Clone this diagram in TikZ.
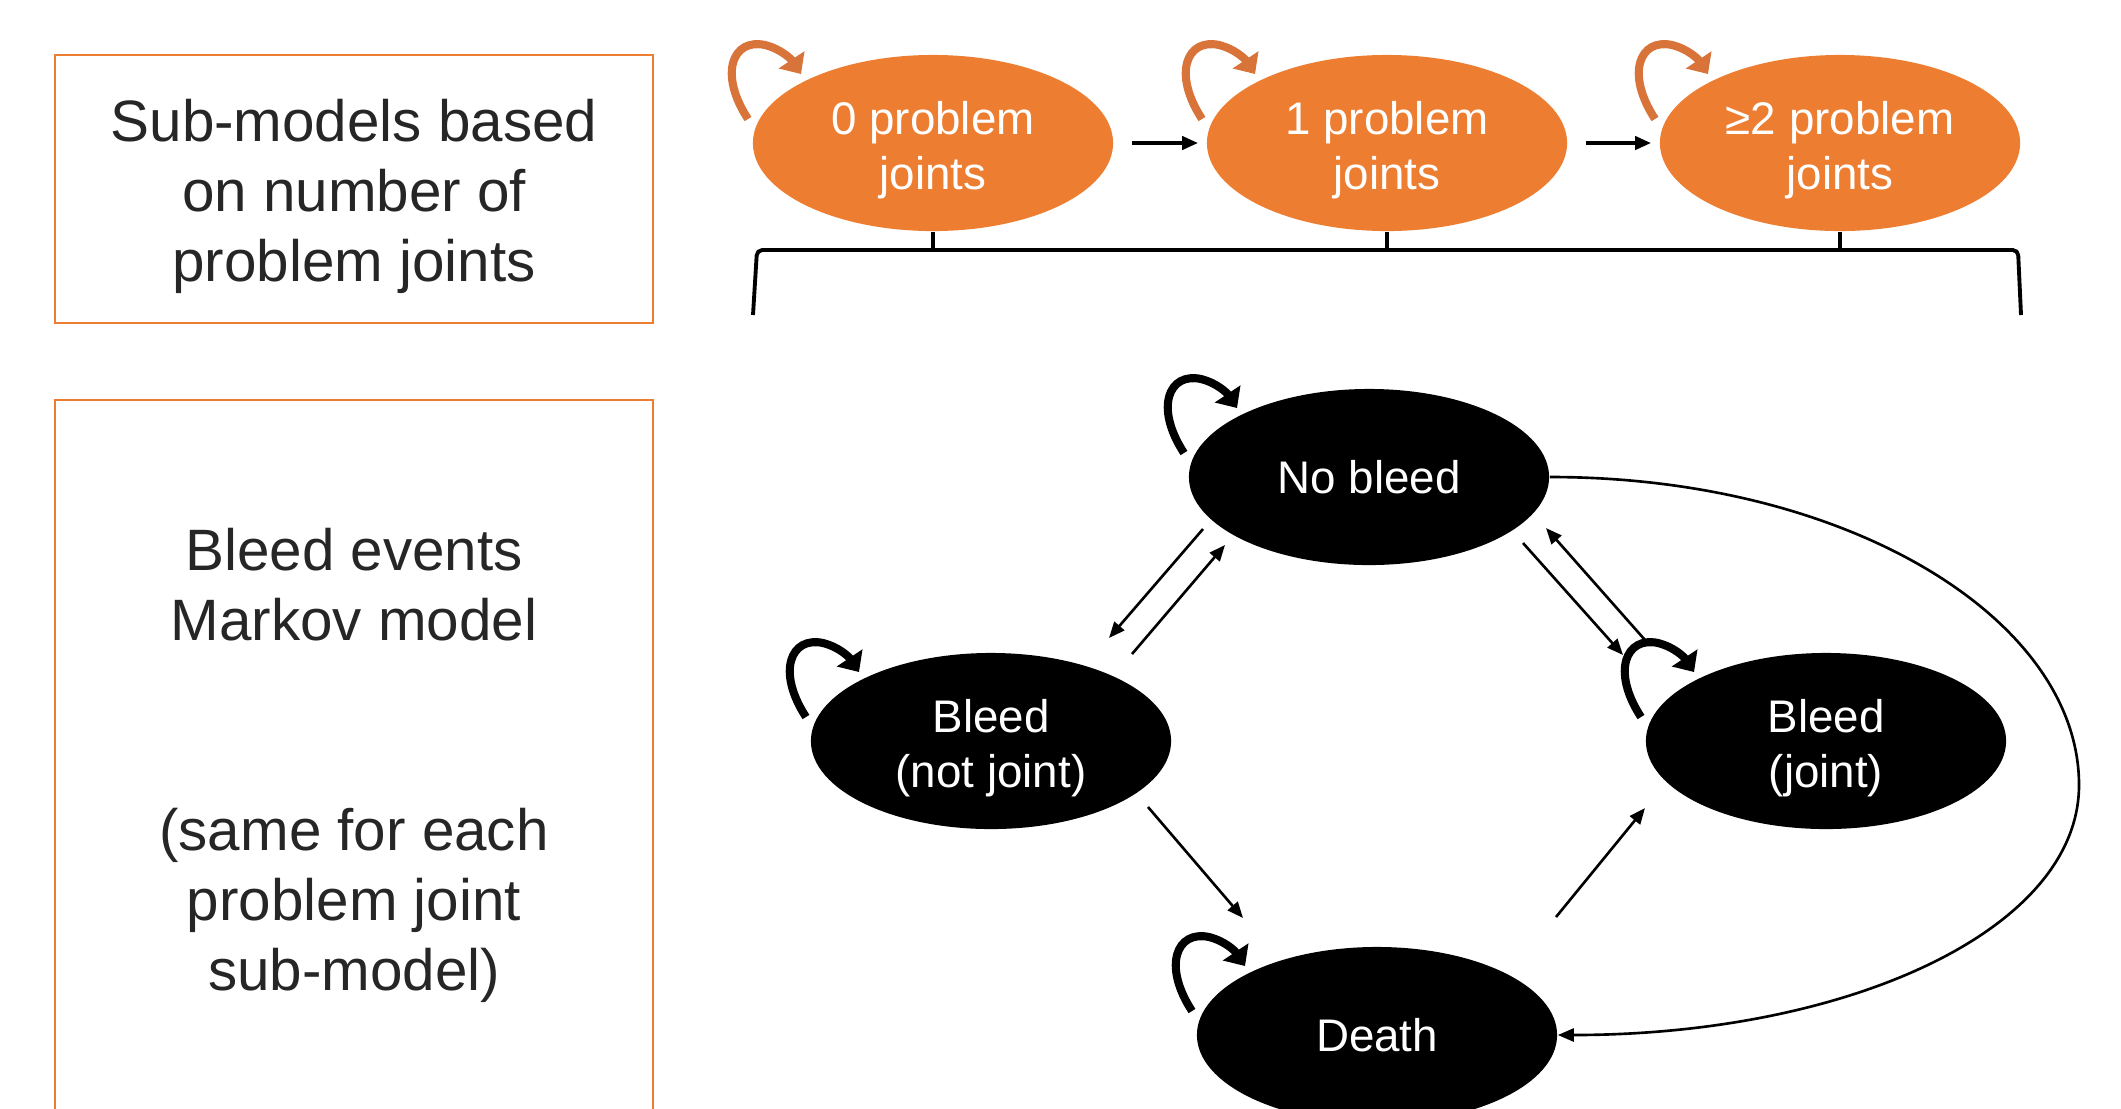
\documentclass[tikz,border=0pt]{standalone}
\usepackage{fontspec}
\setmainfont{Liberation Sans}
\usetikzlibrary{shapes.geometric,arrows.meta,calc}

\definecolor{ppt}{HTML}{ED7D31}
\definecolor{pptloop}{HTML}{D8733A}
\definecolor{txt}{HTML}{262626}

\newcommand\lowr[1]{\rule{0pt}{#1}}

\tikzset{
  tbox/.style={draw=ppt, line width=0.5pt, minimum width=5.98cm, align=center,
    text=txt, font=\fontsize{16.6}{19.9}\selectfont},
  subm/.style={ellipse, fill=ppt, minimum width=3.6cm, minimum height=1.76cm,
    inner sep=0pt, align=center, text=white, font=\fontsize{13}{15.6}\selectfont},
  state/.style={subm, fill=black},
  arr/.style={line width=0.75pt, -{Triangle[length=0.16cm,width=0.13cm]}},
  selfloop/.pic={
    \draw[line width=2.3pt, -{Triangle[length=0.17cm,width=0.3cm]}]
      (-185,-24) .. controls (-215,-70) and (-200,-105) .. (-168,-98)
      .. controls (-152,-94) and (-142,-84) .. (-132,-69);
  }
}

\begin{document}
\begin{tikzpicture}[x=0.01cm, y=-0.01cm]

\useasboundingbox (0,0) rectangle (2121,1108);

% left hand boxes
\node[tbox, minimum height=2.68cm] (sub) at (354,189)
  {\lowr{16.3pt}Sub-models based\\on number of\\problem joints};
\node[tbox, minimum height=7.3cm, anchor=north] (markov) at (354,399)
  {Bleed events\\Markov model\\\mbox{}\\\mbox{}\\(same for each\\problem joint\\sub-model)};

% sub-models
\node[subm] (z0) at (933,143) {\lowr{13.5pt}0 problem\\joints};
\node[subm] (z1) at (1387,143) {\lowr{13.5pt}1 problem\\joints};
\node[subm] (z2) at (1840,143) {\lowr{13.5pt}≥2 problem\\joints};

\draw[arr, line width=1.1pt, shorten <=0.18cm, shorten >=0.08cm] (z0) -- (z1);
\draw[arr, line width=1.1pt, shorten <=0.18cm, shorten >=0.08cm] (z1) -- (z2);

\pic[color=pptloop] at (z0) {selfloop};
\pic[color=pptloop] at (z1) {selfloop};
\pic[color=pptloop] at (z2) {selfloop};

% bracket
\coordinate (brl) at (753,315);
\coordinate (brr) at (2021,315);
\draw[line width=1.1pt, rounded corners=1.5pt]
  (brl) -- (757,250) -- (2018,250) -- (brr);
\draw[line width=1.1pt] (z0.south) -- (z0.south |- 0,250);
\draw[line width=1.1pt] (z1.south) -- (z1.south |- 0,250);
\draw[line width=1.1pt] (z2.south) -- (z2.south |- 0,250);

% markov states
\node[state] (nb) at (1369,477) {No bleed};
\node[state] (bnj) at (991,741) {\lowr{13.5pt}Bleed\\(not joint)};
\node[state] (bj) at (1826,741) {\lowr{13.5pt}Bleed\\(joint)};
\node[state] (death) at (1377,1035) {Death};

\pic at (nb) {selfloop};
\pic at (bnj) {selfloop};
\pic at (bj) {selfloop};
\pic at (death) {selfloop};

\draw[arr] ($(nb)+(-166,52)$) -- ($(bnj)+(118,-103)$);
\draw[arr] ($(bnj)+(141,-87)$) -- ($(nb)+(-144,68)$);
\draw[arr] ($(nb)+(154,66)$) -- ($(bj)+(-203,-86)$);
\draw[arr] ($(bj)+(-181,-101)$) -- ($(nb)+(177,51)$);
\draw[arr] ($(bnj)+(157,66)$) -- ($(death)+(-134,-117)$);
\draw[arr] ($(death)+(179,-118)$) -- ($(bj)+(-181,67)$);

\coordinate (rim) at (2079,785);
\draw[arr] (nb.east) .. controls +(300,0) and +(0,-165) .. (rim)
  .. controls +(0,145) and +(290,0) .. (death.east);

\end{tikzpicture}
\end{document}
